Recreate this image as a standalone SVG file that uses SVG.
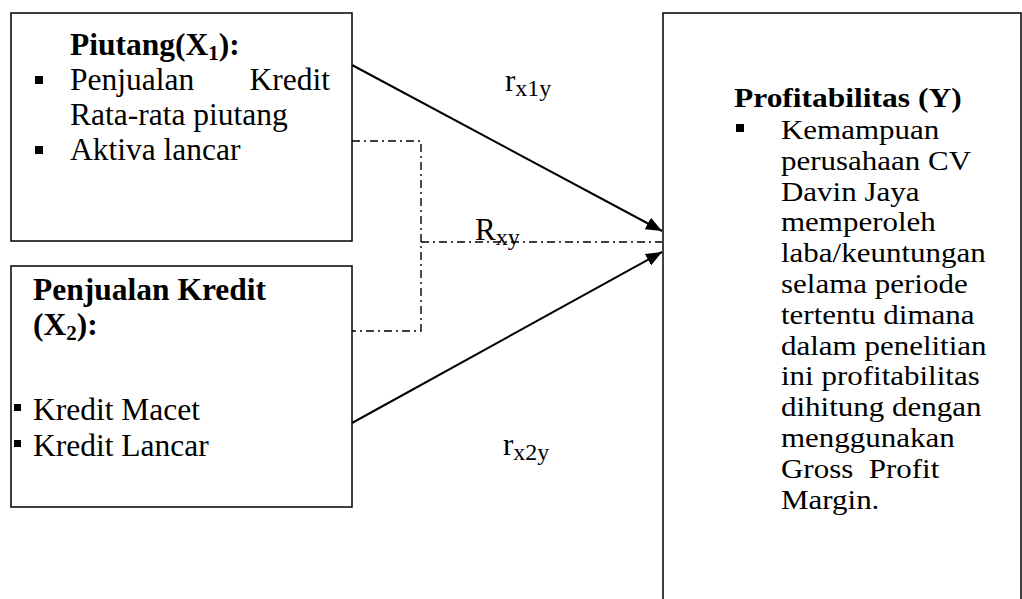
<svg xmlns="http://www.w3.org/2000/svg" width="1022" height="599" viewBox="0 0 1022 599">
<defs>
<style>
.box{fill:#fff;stroke:#000;stroke-width:1.5}
.t{font-family:"Liberation Serif","Times New Roman",serif;font-size:31.5px;fill:#000}
.r{font-size:31px}
.b{font-weight:bold}
.lab{font-family:"Liberation Serif","Times New Roman",serif;font-size:31px;fill:#000}
.sub{font-size:24px}
.arr{fill:none;stroke:#000;stroke-width:2;marker-end:url(#ah)}
.dd{fill:none;stroke:#000;stroke-width:1.4;stroke-dasharray:8 4 2 4}
</style>
<marker id="ah" viewBox="0 0 16 13" refX="16" refY="6.5" markerWidth="16" markerHeight="13" markerUnits="userSpaceOnUse" orient="auto">
<path d="M0,0 L16,6.5 L0,13 Z" fill="#000"/>
</marker>
</defs>
<rect width="1022" height="599" fill="#fff"/>
<g id="piutang">
<rect class="box" x="11" y="13" width="341" height="228"/>
<text class="t b" x="70" y="55">Piutang(X<tspan dy="5" font-size="21px">1</tspan><tspan dy="-5">):</tspan></text>
<rect x="35" y="76" width="8" height="8"/>
<text class="t" x="70" y="90">Penjualan</text>
<text class="t" x="330" y="90" text-anchor="end">Kredit</text>
<text class="t" x="70" y="125">Rata-rata piutang</text>
<rect x="35" y="146" width="8" height="8"/>
<text class="t" x="70" y="160">Aktiva lancar</text>
</g>
<g id="penjualan">
<rect class="box" x="11" y="266" width="341" height="241"/>
<text class="t b" x="33" y="300">Penjualan Kredit</text>
<text class="t b" x="33" y="335">(X<tspan dy="5" font-size="21px">2</tspan><tspan dy="-5">):</tspan></text>
<rect x="14" y="404" width="7" height="7"/>
<text class="t" x="33" y="420">Kredit Macet</text>
<rect x="14" y="440" width="7" height="7"/>
<text class="t" x="33" y="456">Kredit Lancar</text>
</g>
<g id="profitabilitas">
<path class="box" d="M663,600 V13 H1021 V600"/>
<rect x="736" y="124" width="8" height="8"/>
<g transform="matrix(1 0 0 0.85 0 0)">
<text class="t b" x="734" y="125.9">Profitabilitas (Y)</text>
<text class="t r" x="781" y="163.5">Kemampuan</text>
<text class="t r" x="781" y="199.8">perusahaan CV</text>
<text class="t r" x="781" y="236">Davin Jaya</text>
<text class="t r" x="781" y="272.2">memperoleh</text>
<text class="t r" x="781" y="308.5">laba/keuntungan</text>
<text class="t r" x="781" y="344.7">selama periode</text>
<text class="t r" x="781" y="380.9">tertentu dimana</text>
<text class="t r" x="781" y="417.2">dalam penelitian</text>
<text class="t r" x="781" y="453.4">ini profitabilitas</text>
<text class="t r" x="781" y="489.6">dihitung dengan</text>
<text class="t r" x="781" y="525.9">menggunakan</text>
<text class="t r" x="781" y="562.1" xml:space="preserve">Gross  Profit</text>
<text class="t r" x="781" y="598.4">Margin.</text>
</g>
</g>
<g id="connectors">
<line class="arr" x1="352" y1="65" x2="662" y2="231"/>
<line class="arr" x1="352" y1="423" x2="662" y2="252"/>
<path class="dd" d="M352,141 H421 V331 H352"/>
<path class="dd" d="M421,242 H662"/>
<text class="lab" x="505" y="91">r<tspan class="sub" dy="5">x1y</tspan></text>
<text class="lab" x="475" y="240">R<tspan class="sub" dy="5">xy</tspan></text>
<text class="lab" x="503" y="455">r<tspan class="sub" dy="5">x2y</tspan></text>
</g>
</svg>
